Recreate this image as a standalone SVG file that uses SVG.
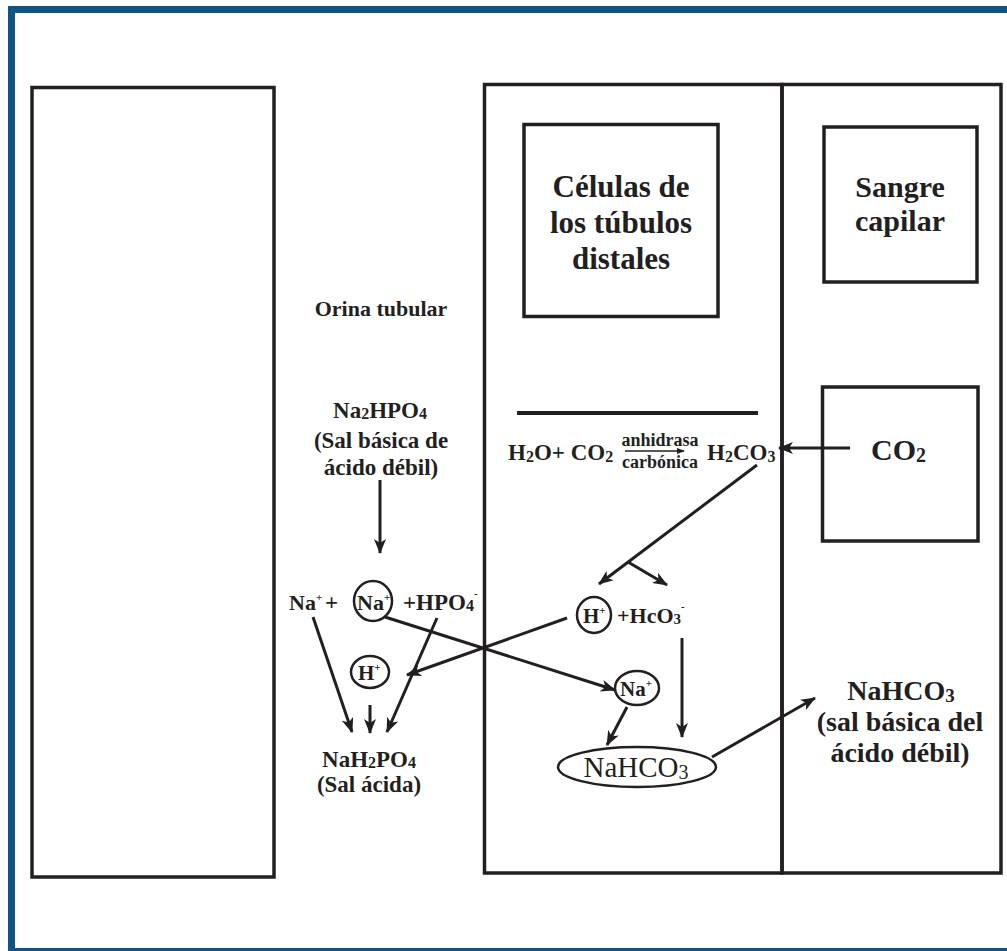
<svg xmlns="http://www.w3.org/2000/svg" width="1007" height="951" viewBox="0 0 1007 951">
<style>
  .frame{fill:none;stroke:#0f5489;stroke-width:7}
  .box{fill:none;stroke:#231f20;stroke-width:3.5}
  .ov{fill:none;stroke:#231f20;stroke-width:2.5}
  .t{font-family:"Liberation Serif","DejaVu Serif",serif;font-weight:bold;fill:#231f20}
  .r{font-weight:normal}
  .m{text-anchor:middle}
  .c{stroke:#231f20;stroke-width:3;fill:none;marker-end:url(#ah)}
  .thin{stroke:#231f20;stroke-width:1.5;fill:none;marker-end:url(#ahs)}
</style>
<defs>
  <marker id="ah" markerUnits="userSpaceOnUse" markerWidth="16" markerHeight="12" refX="14" refY="6" orient="auto">
    <path d="M0,0 L15,6 L0,12 L4,6 z" fill="#231f20"/>
  </marker>
  <marker id="ahs" markerUnits="userSpaceOnUse" markerWidth="8" markerHeight="6" refX="7" refY="3" orient="auto">
    <path d="M0,0 L8,3 L0,6 z" fill="#231f20"/>
  </marker>
</defs>
<rect width="1007" height="951" fill="#ffffff"/>
<rect class="frame" x="11.5" y="9.5" width="1005" height="942"/>

<g id="orina">
  <rect class="box" x="32" y="87.5" width="242" height="789.5"/>
  <text class="t" x="381" y="316" font-size="22" text-anchor="middle">Orina tubular</text>
</g>

<g id="celulas">
  <rect class="box" x="484.5" y="84.5" width="297.5" height="788.5"/>
  <rect class="box" x="524" y="124.5" width="194" height="192"/>
  <text class="t m" x="621" y="197" font-size="31">Células de</text>
  <text class="t m" x="621" y="233" font-size="31">los túbulos</text>
  <text class="t m" x="621" y="269" font-size="31">distales</text>
  <line x1="517" y1="413" x2="758" y2="413" stroke="#231f20" stroke-width="4"/>
</g>

<g id="sangre">
  <rect class="box" x="782" y="84.5" width="219" height="788.5"/>
  <rect class="box" x="824" y="127" width="153" height="155"/>
  <text class="t m" x="900" y="197" font-size="30">Sangre</text>
  <text class="t m" x="900" y="231" font-size="30">capilar</text>
</g>

<g id="co2">
  <rect class="box" x="822.5" y="387" width="155.5" height="154"/>
  <text class="t" x="871" y="460" font-size="30">CO<tspan font-size="20" baseline-shift="-2">2</tspan></text>
</g>

<g id="reaccion">
  <text class="t" x="508" y="460" font-size="23">H<tspan font-size="16" baseline-shift="-2">2</tspan>O+ CO<tspan font-size="16" baseline-shift="-2">2</tspan></text>
  <text class="t m" x="660" y="446" font-size="18">anhidrasa</text>
  <text class="t m" x="660" y="468" font-size="18">carbónica</text>
  <text class="t" x="707" y="460" font-size="23">H<tspan font-size="16" baseline-shift="-2">2</tspan>CO<tspan font-size="16" baseline-shift="-2">3</tspan></text>
</g>

<g id="na2hpo4">
  <text class="t m" x="380" y="418" font-size="23">Na<tspan font-size="16" baseline-shift="-1">2</tspan>HPO<tspan font-size="16" baseline-shift="-1">4</tspan></text>
  <text class="t m" x="381" y="448" font-size="23">(Sal básica de</text>
  <text class="t m" x="381" y="475" font-size="23">ácido débil)</text>
</g>

<g id="disociacion">
  <text class="t" x="289" y="610" font-size="22">Na<tspan font-size="11" dy="-9">+</tspan></text>
  <text class="t" x="325" y="610" font-size="23">+</text>
  <ellipse class="ov" cx="373" cy="601" rx="19" ry="20"/>
  <text class="t" x="357" y="610" font-size="22">Na<tspan font-size="11" dy="-9">+</tspan></text>
  <text class="t" x="403" y="610" font-size="23">+HPO<tspan font-size="16" baseline-shift="-1">4</tspan><tspan font-size="11" dy="-13">-</tspan></text>
</g>

<g id="h-izq">
  <ellipse class="ov" cx="370" cy="672" rx="19" ry="16"/>
  <text class="t" x="358" y="680" font-size="21">H<tspan font-size="11" dy="-9">+</tspan></text>
</g>

<g id="nah2po4">
  <text class="t m" x="369" y="767" font-size="23">NaH<tspan font-size="16" baseline-shift="-1">2</tspan>PO<tspan font-size="16" baseline-shift="-1">4</tspan></text>
  <text class="t m" x="369" y="792" font-size="23">(Sal ácida)</text>
</g>

<g id="h-hco3">
  <ellipse class="ov" cx="594" cy="615" rx="17" ry="18"/>
  <text class="t" x="583" y="623" font-size="21">H<tspan font-size="11" dy="-9">+</tspan></text>
  <text class="t" x="617" y="623" font-size="22">+HcO<tspan font-size="15" baseline-shift="-1">3</tspan><tspan font-size="11" dy="-13">-</tspan></text>
</g>

<g id="na-der">
  <ellipse class="ov" cx="637" cy="688" rx="22" ry="17"/>
  <text class="t" x="620" y="696" font-size="21">Na<tspan font-size="11" dy="-9">+</tspan></text>
</g>

<g id="nahco3-cel">
  <ellipse class="ov" cx="637" cy="767" rx="79" ry="20"/>
  <text class="t r m" x="636" y="777" font-size="29">NaHCO<tspan font-size="20" baseline-shift="-2">3</tspan></text>
</g>

<g id="nahco3-sangre">
  <text class="t m" x="901" y="700" font-size="28">NaHCO<tspan font-size="19" baseline-shift="-2">3</tspan></text>
  <text class="t m" x="900" y="731" font-size="28">(sal básica del</text>
  <text class="t m" x="900" y="762" font-size="28">ácido débil)</text>
</g>

<g id="conectores">
  <line class="thin" x1="625" y1="451" x2="684" y2="451"/>
  <line class="c" x1="850" y1="448" x2="779" y2="448"/>
  <line class="c" x1="757" y1="465" x2="599" y2="584"/>
  <line class="c" x1="628" y1="562" x2="667" y2="585"/>
  <line class="c" x1="682" y1="638" x2="682" y2="737"/>
  <line class="c" x1="627" y1="707" x2="607" y2="745"/>
  <line class="c" x1="712" y1="757" x2="815" y2="698"/>
  <line class="c" x1="380" y1="480" x2="380" y2="553"/>
  <line class="c" x1="313" y1="617" x2="352" y2="732"/>
  <line class="c" x1="370" y1="705" x2="370" y2="733"/>
  <line class="c" x1="437" y1="618" x2="387" y2="732"/>
  <line class="c" x1="567" y1="618" x2="407" y2="675"/>
  <line class="c" x1="385" y1="617" x2="615" y2="690"/>
</g>
</svg>
